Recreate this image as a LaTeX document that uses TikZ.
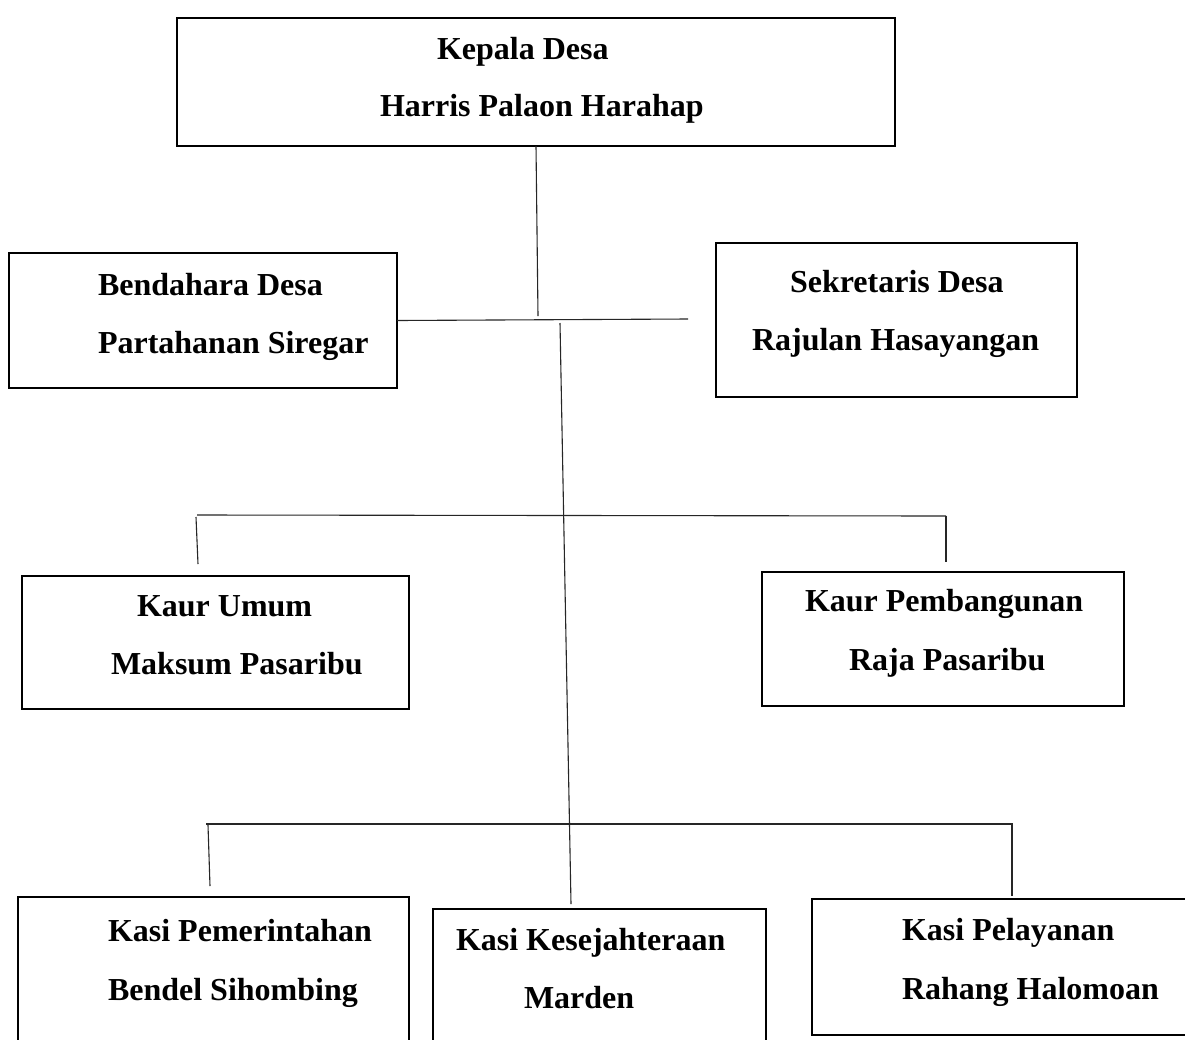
\documentclass[tikz,border=0pt]{standalone}
\usepackage{fontspec}
\setmainfont{Liberation Serif}
\begin{document}
\begin{tikzpicture}[x=1pt,y=-1pt,
  box/.style={draw=black,line width=2.6pt,rectangle,inner sep=0pt,outer sep=0pt,fill=none},
  lbl/.style={anchor=base west,inner sep=0pt,outer sep=0pt,font=\fontsize{32}{36}\selectfont\bfseries},
  conn/.style={draw=black!85,line width=1.1pt}]
\clip (0,0) rectangle (1185,1039);
\fill[white] (0,0) rectangle (1185,1039);
% boxes
\node[box,minimum width=718pt,minimum height=128pt] (kepala) at (536,82) {};
\node[box,minimum width=388pt,minimum height=135pt] (bendahara) at (203,320.5) {};
\node[box,minimum width=361pt,minimum height=154pt] (sekretaris) at (896.5,320) {};
\node[box,minimum width=387pt,minimum height=133pt] (kaurumum) at (215.5,642.5) {};
\node[box,minimum width=362pt,minimum height=134pt] (kaurpemb) at (943,639) {};
\node[box,minimum width=391pt,minimum height=203pt] (kasipem) at (213.5,998.5) {};
\node[box,minimum width=333pt,minimum height=191pt] (kasikes) at (599.5,1004.5) {};
\node[box,minimum width=438pt,minimum height=136pt] (kasipel) at (1031,967) {};
% texts
\node[lbl] (t1) at (437,59) {Kepala Desa};
\node[lbl] (t2) at (380,116) {Harris Palaon Harahap};
\node[lbl] (t3) at (98,295) {Bendahara Desa};
\node[lbl] (t4) at (98,353) {Partahanan Siregar};
\node[lbl] (t5) at (790,292) {Sekretaris Desa};
\node[lbl] (t6) at (752,350) {Rajulan Hasayangan};
\node[lbl] (t7) at (137,616) {Kaur Umum};
\node[lbl] (t8) at (111,674) {Maksum Pasaribu};
\node[lbl] (t9) at (805,611) {Kaur Pembangunan};
\node[lbl] (t10) at (849,670) {Raja Pasaribu};
\node[lbl] (t11) at (108,941) {Kasi Pemerintahan};
\node[lbl] (t12) at (108,1000) {Bendel Sihombing};
\node[lbl] (t13) at (456,950) {Kasi Kesejahteraan};
\node[lbl] (t14) at (524,1008) {Marden};
\node[lbl] (t15) at (902,940) {Kasi Pelayanan};
\node[lbl] (t16) at (902,999) {Rahang Halomoan};
% junction coordinates
\coordinate (j1) at (538,316);
\coordinate (j2) at (688,319);
\coordinate (s1) at (560,323);
\coordinate (s2) at (571,904);
\coordinate (m1) at (197,515);
\coordinate (m2) at (946,516);
\coordinate (m1d) at (198,564);
\coordinate (m1t) at (196,517);
\coordinate (m2d) at (946,562);
\coordinate (b1) at (206,824);
\coordinate (b2) at (1013,824);
\coordinate (b1t) at (208,825);
\coordinate (b1d) at (210,886);
\coordinate (b2t) at (1012,824);
\coordinate (b2d) at (1012,896);
% connectors
\draw[conn] (kepala.south) -- (j1);
\draw[conn] (bendahara.east) -- (j2);
\draw[conn] (s1) -- (s2);
\draw[conn] (m1) -- (m2);
\draw[conn] (m1t) -- (m1d);
\draw[conn] (m2) -- (m2d);
\draw[conn] (b1) -- (b2);
\draw[conn] (b1t) -- (b1d);
\draw[conn] (b2t) -- (b2d);
\end{tikzpicture}
\end{document}
